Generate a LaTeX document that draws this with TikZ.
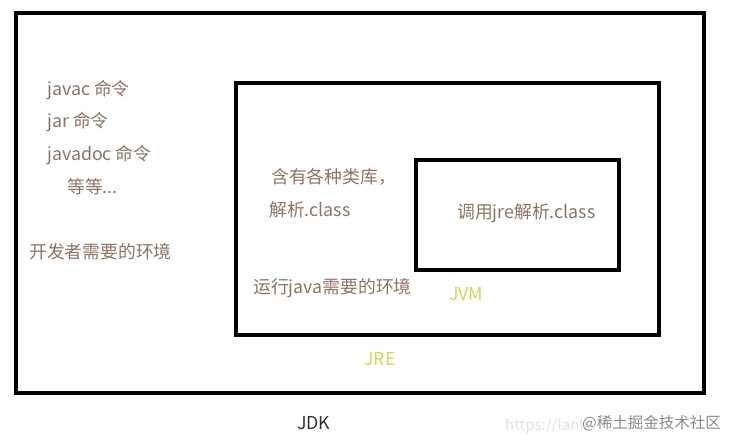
\documentclass[tikz,border=0pt]{standalone}
\usepackage{fontspec}
\setmainfont{Noto Sans CJK SC}
\definecolor{txt}{HTML}{8C7463}
\definecolor{lime}{HTML}{C5DE5A}
\definecolor{wm}{HTML}{8A8A8A}
\definecolor{wmf}{HTML}{E2E2E2}
\begin{document}
\begin{tikzpicture}[x=1pt,y=-1pt,
  box/.style={draw=black,line width=4pt},
  lbl/.style={anchor=west,inner sep=0pt,text=txt,font=\fontsize{17.8}{19}\selectfont},
  green/.style={anchor=west,inner sep=0pt,text=lime,font=\fontsize{17.8}{19}\selectfont}]
\useasboundingbox (0,0) rectangle (733,446);
\fill[white] (0,0) rectangle (733,446);
\draw[box] (16,13) rectangle (704,393);
\draw[box] (236,83) rectangle (659,335);
\draw[box] (416,160) rectangle (619,270);
\node[lbl] (javac) at (47,90) {javac 命令};
\node[lbl] (jar) at (47,122) {jar 命令};
\node[lbl] (javadoc) at (47,155) {javadoc 命令};
\node[lbl] (etc) at (67,187) {等等...};
\node[lbl] (dev) at (29,252) {开发者需要的环境};
\node[lbl] (lib) at (271,177) {含有各种类库，};
\node[lbl] (parse) at (269,210) {解析.class};
\node[lbl] (run) at (253,288) {运行java需要的环境};
\node[lbl] (call) at (457,213) {调用jre解析.class};
\node[green] (jvm) at (449,294) {JVM};
\node[green] (jre) at (364,359) {JRE};
\node[anchor=west,inner sep=0pt,text=black!80,font=\fontsize{17.8}{19}\selectfont] (jdk) at (297,423) {JDK};
\node[anchor=west,inner sep=0pt,text=wmf,font=\fontsize{15}{17}\selectfont] (url) at (505,426) {https://lanli};
\node[anchor=west,inner sep=0pt,text=wm,font=\fontsize{15.5}{17}\selectfont] (wmark) at (582,423) {@稀土掘金技术社区};
\end{tikzpicture}
\end{document}
